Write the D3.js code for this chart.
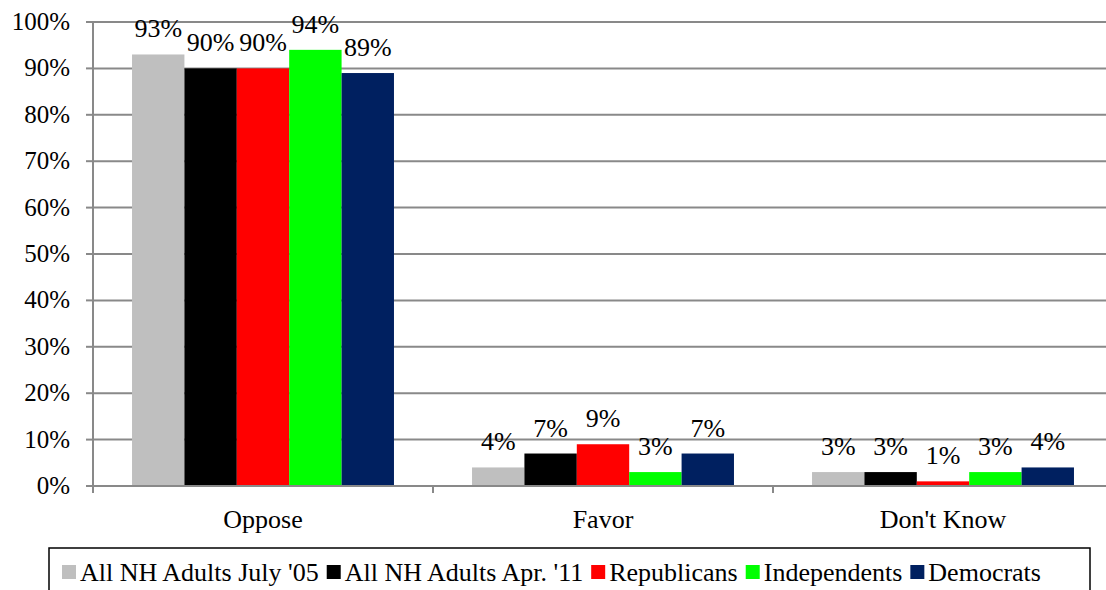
<!DOCTYPE html>
<html><head><meta charset="utf-8"><script src="https://cdn.jsdelivr.net/npm/d3@7"></script></head>
<body style="margin:0">
<svg id="s" width="1106" height="590"></svg>
<script>
const categories = ["Oppose", "Favor", "Don't Know"]
const seriesNames = ["All NH Adults July '05", "All NH Adults Apr. '11", "Republicans", "Independents", "Democrats"]
const seriesColors = ["#bfbfbf", "#000000", "#ff0000", "#00ff00", "#002060"]
const july05 = [0.93, 0.04, 0.03]
const apr11 = [0.90, 0.07, 0.03]
const republicans = [0.90, 0.09, 0.01]
const independents = [0.94, 0.03, 0.03]
const democrats = [0.89, 0.07, 0.04]
const yTicks = [0, 0.1, 0.2, 0.3, 0.4, 0.5, 0.6, 0.7, 0.8, 0.9, 1.0]

const seriesValues = [july05, apr11, republicans, independents, democrats]
const fontName = "'Times New Roman'"

const svg = d3.select("#s")
const plotLeft = 93, plotRight = 1113, plotTop = 22, plotBottom = 486

const x0 = d3.scaleBand()
  .domain(categories)
  .range([plotLeft, plotRight])
  .padding(0)

const x1 = d3.scaleBand()
  .domain(seriesNames)
  .range([0, x0.bandwidth()])
  .paddingInner(0)
  .paddingOuter(0.745)

const y = d3.scaleLinear()
  .domain([0, 1])
  .range([plotBottom, plotTop])

// gridlines
svg.append("g")
  .selectAll("line")
  .data(yTicks.filter(d => d > 0))
  .enter().append("line")
    .attr("x1", plotLeft).attr("x2", 1106)
    .attr("y1", d => y(d)).attr("y2", d => y(d))
    .attr("stroke", "#898989")
    .attr("stroke-width", 2)

// y axis ticks
svg.append("g")
  .selectAll("line")
  .data(yTicks)
  .enter().append("line")
    .attr("x1", plotLeft - 7).attr("x2", plotLeft)
    .attr("y1", d => y(d)).attr("y2", d => y(d))
    .attr("stroke", "#898989")
    .attr("stroke-width", 2)

yTicks.forEach(d => {
  svg.append("text")
    .attr("x", plotLeft - 23)
    .attr("y", y(d) + 8)
    .attr("text-anchor", "end")
    .style("font-family", fontName)
    .style("font-size", "25px")
    .text(d3.format(".0%")(d))
})

// bars
const groups = svg.append("g")
  .selectAll("g")
  .data(categories)
  .enter().append("g")
    .attr("transform", d => "translate(" + x0(d) + ",0)")

groups.selectAll("rect")
  .data((c, i) => seriesNames.map((s, j) => ({ s: s, j: j, v: seriesValues[j][i] })))
  .enter().append("rect")
    .attr("x", d => x1(d.s))
    .attr("y", d => y(d.v))
    .attr("width", x1.bandwidth())
    .attr("height", d => y(0) - y(d.v))
    .attr("fill", d => seriesColors[d.j])

groups.selectAll("text.lbl")
  .data((c, i) => seriesNames.map((s, j) => ({ s: s, j: j, v: seriesValues[j][i] })))
  .enter().append("text")
    .attr("class", "lbl")
    .attr("x", d => x1(d.s) + x1.bandwidth() / 2)
    .attr("y", d => y(d.v) - 17)
    .attr("text-anchor", "middle")
    .style("font-family", fontName)
    .style("font-size", "26px")
    .text(d => d3.format(".0%")(d.v))

// x axis
categories.forEach(c => {
  svg.append("text")
    .attr("x", x0(c) + x0.bandwidth() / 2)
    .attr("y", plotBottom + 42)
    .attr("text-anchor", "middle")
    .style("font-family", fontName)
    .style("font-size", "26px")
    .text(c)
})

svg.append("line")
  .attr("x1", plotLeft).attr("x2", 1106)
  .attr("y1", plotBottom).attr("y2", plotBottom)
  .attr("stroke", "#898989").attr("stroke-width", 2)
svg.append("line")
  .attr("x1", plotLeft).attr("x2", plotLeft)
  .attr("y1", plotTop).attr("y2", plotBottom + 7)
  .attr("stroke", "#898989").attr("stroke-width", 2)
svg.append("g")
  .selectAll("line")
  .data(categories.slice(1))
  .enter().append("line")
    .attr("x1", d => x0(d)).attr("x2", d => x0(d))
    .attr("y1", plotBottom).attr("y2", plotBottom + 7)
    .attr("stroke", "#898989").attr("stroke-width", 2)

// legend
svg.append("rect")
  .attr("x", 49).attr("y", 548)
  .attr("width", 1041).attr("height", 60)
  .attr("fill", "none")
  .attr("stroke", "#000")
  .attr("stroke-width", 1.5)

let lx = 62
seriesNames.forEach((s, i) => {
  svg.append("rect")
    .attr("x", lx).attr("y", 565)
    .attr("width", 14).attr("height", 14)
    .attr("fill", seriesColors[i])
  const t = svg.append("text")
    .attr("x", lx + 18).attr("y", 581)
    .style("font-family", fontName)
    .style("font-size", "26px")
    .text(s)
  lx += 18 + t.node().getComputedTextLength() + 8
})
</script></body></html>
